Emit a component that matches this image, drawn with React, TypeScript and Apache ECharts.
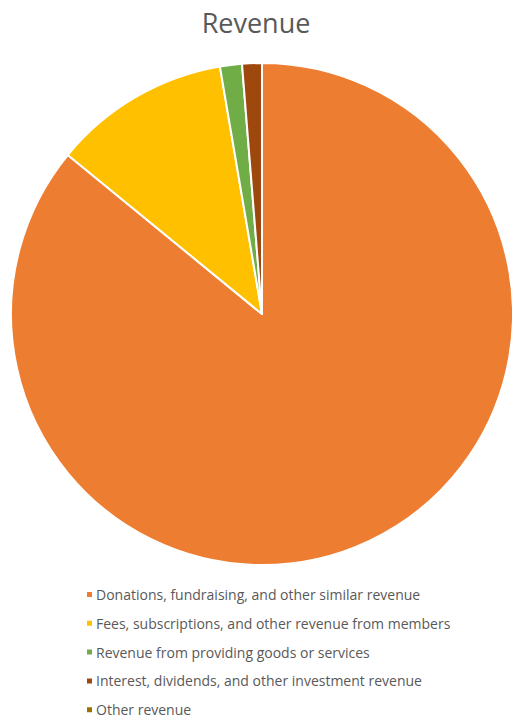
import React, { useEffect, useRef } from "react";
import * as echarts from "echarts";

const categories = [
  "Donations, fundraising, and other similar revenue",
  "Fees, subscriptions, and other revenue from members",
  "Revenue from providing goods or services",
  "Interest, dividends, and other investment revenue",
  "Other revenue",
];
const values = [85.9, 11.4, 1.41, 1.27, 0];
const colors = ["#ED7D31", "#FFC000", "#70AD47", "#9E480E", "#997300"];

export default function App() {
  const ref = useRef<HTMLDivElement>(null);
  useEffect(() => {
    if (!ref.current) return;
    const chart = echarts.init(ref.current, undefined, { renderer: "svg" });
    chart.setOption({
      animation: false,
      backgroundColor: "#ffffff",
      title: {
        text: "Revenue",
        left: "center",
        top: 4,
        textStyle: {
          fontFamily: "Open Sans",
          fontSize: 27,
          fontWeight: "normal",
          color: "#595959",
        },
      },
      legend: {
        orient: "vertical",
        left: 85,
        top: 587,
        height: 200,
        padding: 0,
        icon: "rect",
        itemWidth: 7,
        itemHeight: 7,
        itemGap: 13.8,
        data: categories,
        textStyle: {
          fontFamily: "Open Sans",
          fontSize: 14,
          lineHeight: 15,
          color: "#595959",
          padding: [0, 0, 0, -2],
        },
      },
      series: [
        {
          type: "pie",
          center: [262, 314],
          radius: [0, 251],
          startAngle: 90,
          clockwise: true,
          label: { show: false },
          labelLine: { show: false },
          emphasis: { disabled: true },
          itemStyle: { borderColor: "#ffffff", borderWidth: 2 },
          data: categories.map((name, i) => ({
            name,
            value: values[i],
            itemStyle: { color: colors[i] },
          })),
        },
      ],
    });
    return () => chart.dispose();
  }, []);
  return (
    <div
      ref={ref}
      style={{ position: "fixed", left: 0, top: 0, width: 512, height: 718 }}
    />
  );
}
